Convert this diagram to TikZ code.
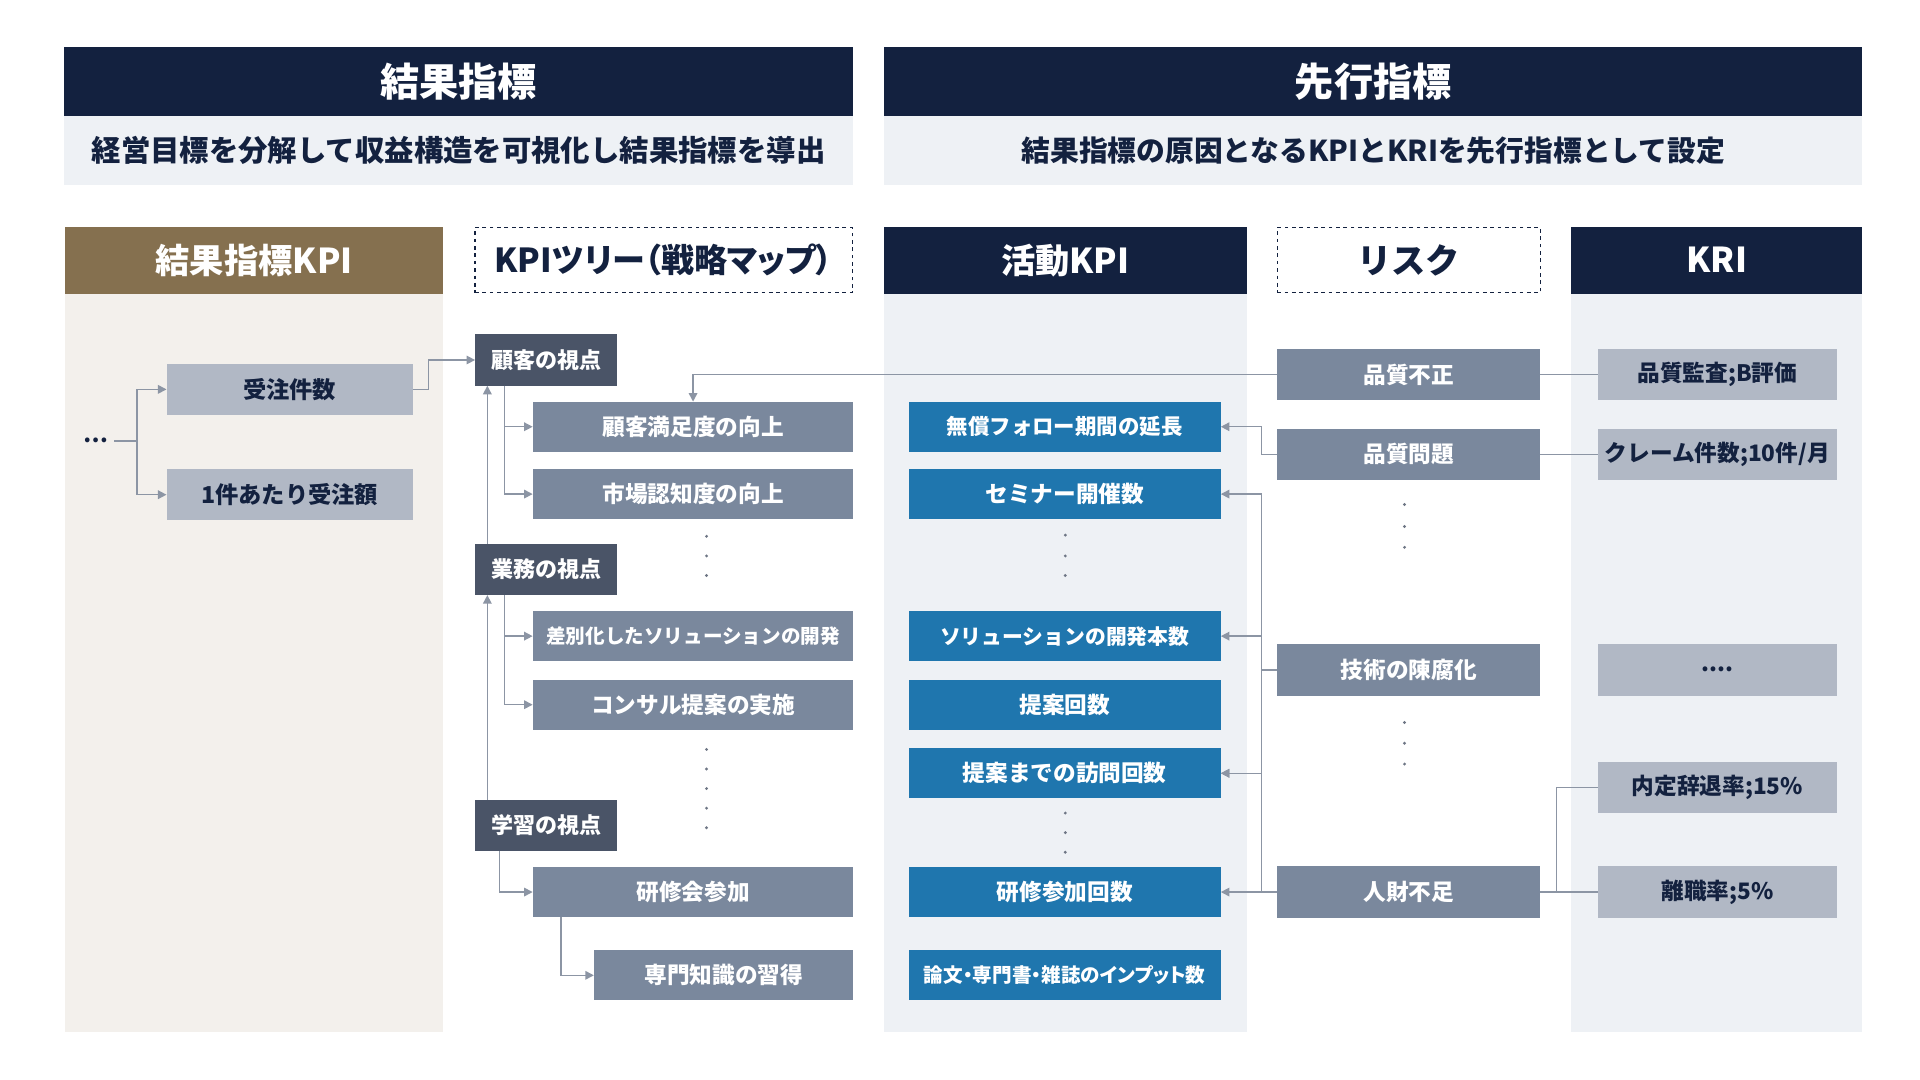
\documentclass[tikz,border=0pt]{standalone}
\usepackage{fontspec}
\setmainfont{Noto Sans CJK JP}
\newfontfamily\paltfont{Noto Sans CJK JP}[RawFeature=+palt]
\usetikzlibrary{arrows.meta}
\definecolor{navy}{HTML}{13213F}
\definecolor{brownh}{HTML}{85704F}
\definecolor{lightbg}{HTML}{EEF1F5}
\definecolor{beigebg}{HTML}{F3F0EC}
\definecolor{darkslate}{HTML}{4A5467}
\definecolor{midslate}{HTML}{7A889D}
\definecolor{lightslate}{HTML}{B1B8C5}
\definecolor{kpiblue}{HTML}{1F76AE}
\definecolor{lnc}{HTML}{8C95A4}
\newcommand{\fsz}[1]{\fontsize{#1}{#1}\selectfont}
\begin{document}
\begin{tikzpicture}[x=1pt,y=-1pt,
  every node/.style={inner sep=0pt,outer sep=0pt,font=\fsz{18.5}\bfseries},
  band/.style={fill=navy,text=white,font=\fsz{32}\bfseries},
  sub/.style={fill=lightbg,text=navy},
  colh/.style={minimum height=55pt,font=\fsz{28}\bfseries},
  dashbox/.style={colh,draw=navy,dashed,line width=1pt,text=navy,fill=white},
  persp/.style={fill=darkslate,text=white,minimum width=116pt,minimum height=42pt,font=\fsz{18}\bfseries},
  treebox/.style={fill=midslate,text=white,minimum width=262pt,minimum height=41pt},
  actbox/.style={fill=kpiblue,text=white,minimum width=255pt,minimum height=41pt},
  riskbox/.style={fill=midslate,text=white,minimum width=215pt,minimum height=42pt},
  kribox/.style={fill=lightslate,text=navy,minimum width=195pt,minimum height=42pt},
  resbox/.style={fill=lightslate,text=navy,minimum width=201pt,minimum height=42pt,font=\fsz{19}\bfseries},
  ln/.style={draw=lnc,line width=1.2pt},
  arr/.style={ln,-{Triangle[length=7pt,width=7pt]}},
  vdot/.style={fill=darkslate!80,circle,minimum size=2.6pt}
]
\useasboundingbox (0,0) rectangle (1568,882);
\fill[white] (0,0) rectangle (1568,882);

% top bands
\node[band,minimum width=645pt,minimum height=57pt] (H1) at (374.5,66.5) {結果指標};
\node[sub,minimum width=645pt,minimum height=56pt,font=\fsz{24}\bfseries] (S1) at (374.5,123) {経営目標を分解して収益構造を可視化し結果指標を導出};
\node[band,minimum width=799pt,minimum height=57pt] (H2) at (1121.5,66.5) {先行指標};
\node[sub,minimum width=799pt,minimum height=56pt,font=\fsz{23.5}\bfseries] (S2) at (1121.5,123) {結果指標の原因となるKPIとKRIを先行指標として設定};

% column backgrounds
\fill[beigebg] (53,240) rectangle (362,843);
\fill[lightbg] (722,240) rectangle (1018,843);
\fill[lightbg] (1283,240) rectangle (1521,843);

% column headers
\node[colh,fill=brownh,text=white,minimum width=309pt] (C1) at (207.5,212.5) {結果指標KPI};
\node[dashbox,minimum width=308pt,minimum height=53pt,font=\fsz{27}\bfseries\paltfont] (C2) at (542,212.5) {KPIツリー（戦略マップ）};
\node[colh,fill=navy,text=white,minimum width=296pt] (C3) at (870,212.5) {活動KPI};
\node[dashbox,minimum width=215pt,minimum height=53pt] (C4) at (1150.5,212.5) {リスク};
\node[colh,fill=navy,text=white,minimum width=238pt] (C5) at (1402,212.5) {KRI};

% result KPI
\node[text=navy,font=\fsz{18}\bfseries] (dt) at (78,360) {…};
\node[resbox] (uc) at (236.5,318) {受注件数};
\node[resbox] (ug) at (236.5,404) {1件あたり受注額};

% KPI tree
\node[persp] (p1) at (446,294) {顧客の視点};
\node[treebox] (c1) at (566,348.5) {顧客満足度の向上};
\node[treebox] (c2) at (566,403.5) {市場認知度の向上};
\node[persp] (p2) at (446,465) {業務の視点};
\node[treebox,font=\fsz{16}\bfseries] (c3) at (566,519.5) {差別化したソリューションの開発};
\node[treebox] (c4) at (566,575.5) {コンサル提案の実施};
\node[persp] (p3) at (446,674) {学習の視点};
\node[treebox] (c5) at (566,728.5) {研修会参加};
\node[treebox,minimum width=212pt] (c6) at (591,796.5) {専門知識の習得};

% activity KPI
\node[actbox,font=\fsz{17.5}\bfseries] (a1) at (869.5,348.5) {無償フォロー期間の延長};
\node[actbox] (a2) at (869.5,403.5) {セミナー開催数};
\node[actbox,font=\fsz{17}\bfseries] (a3) at (869.5,519.5) {ソリューションの開発本数};
\node[actbox] (a4) at (869.5,575.5) {提案回数};
\node[actbox] (a5) at (869.5,631.5) {提案までの訪問回数};
\node[actbox] (a6) at (869.5,728.5) {研修参加回数};
\node[actbox,font=\fsz{16}\bfseries\paltfont] (a7) at (869.5,796.5) {論文・専門書・雑誌のインプット数};

% risks
\node[riskbox] (r1) at (1150.5,306) {品質不正};
\node[riskbox] (r2) at (1150.5,371) {品質問題};
\node[riskbox] (r3) at (1150.5,547) {技術の陳腐化};
\node[riskbox] (r4) at (1150.5,728.5) {人財不足};

% KRI
\node[kribox] (k1) at (1402.5,306) {品質監査;B評価};
\node[kribox] (k2) at (1402.5,371) {クレーム件数;10件/月};
\node[kribox] (k3) at (1402.5,547) {....};
\node[kribox] (k4) at (1402.5,643) {内定辞退率;15\%};
\node[kribox] (k5) at (1402.5,728.5) {離職率;5\%};

% vertical dots
\foreach \y in {438,454,470} \node[vdot] at (577,\y) {};
\foreach \y in {612,628,644,660,676} \node[vdot] at (577,\y) {};
\foreach \y in {437,454,470} \node[vdot] at (870,\y) {};
\foreach \y in {664,680,696} \node[vdot] at (870,\y) {};
\foreach \y in {412,430,447} \node[vdot] at (1147,\y) {};
\foreach \y in {590,607,624} \node[vdot] at (1147,\y) {};

% connectors: result KPI
\coordinate (lj) at (112,360);
\draw[ln] ([xshift=5pt]dt.east) -- (lj);
\draw[arr] (lj) |- (uc.west);
\draw[arr] (lj) |- (ug.west);
\draw[arr] (uc.east) -- ++(13,0) |- (p1.west);

% KPI tree connectors
\draw[arr] ([xshift=24pt]p1.south west) |- (c1.west);
\draw[arr] ([xshift=24pt]p1.south west) |- (c2.west);
\draw[arr] ([xshift=24pt]p2.south west) |- (c3.west);
\draw[arr] ([xshift=24pt]p2.south west) |- (c4.west);
\draw[arr] ([xshift=20pt]p3.south west) |- (c5.west);
\draw[arr] ([xshift=23pt]c5.south west) |- (c6.west);
\draw[arr] ([xshift=10pt]p2.north west) -- ([xshift=10pt]p1.south west);
\draw[arr] ([xshift=10pt]p3.north west) -- ([xshift=10pt]p2.south west);

% risks to tree / activities
\draw[arr] (r1.west) -| (c1.north);
\draw[arr] (r2.west) -- ++(-13,0) |- (a1.east);
\draw[arr] (r3.west) -- ++(-13,0) |- (a2.east);
\draw[arr] (r3.west) -- ++(-13,0) |- (a3.east);
\draw[arr] (r3.west) -- ++(-13,0) |- (a5.east);
\draw[arr] (r4.west) -- ++(-13,0) |- (a5.east);
\draw[arr] (r4.west) -- (a6.east);

% risks to KRI
\draw[ln] (r1.east) -- (k1.west);
\draw[ln] (r2.east) -- (k2.west);
\draw[ln] (r4.east) -- (k5.west);
\draw[ln] (r4.east) -- ++(13,0) |- (k4.west);
\end{tikzpicture}
\end{document}
